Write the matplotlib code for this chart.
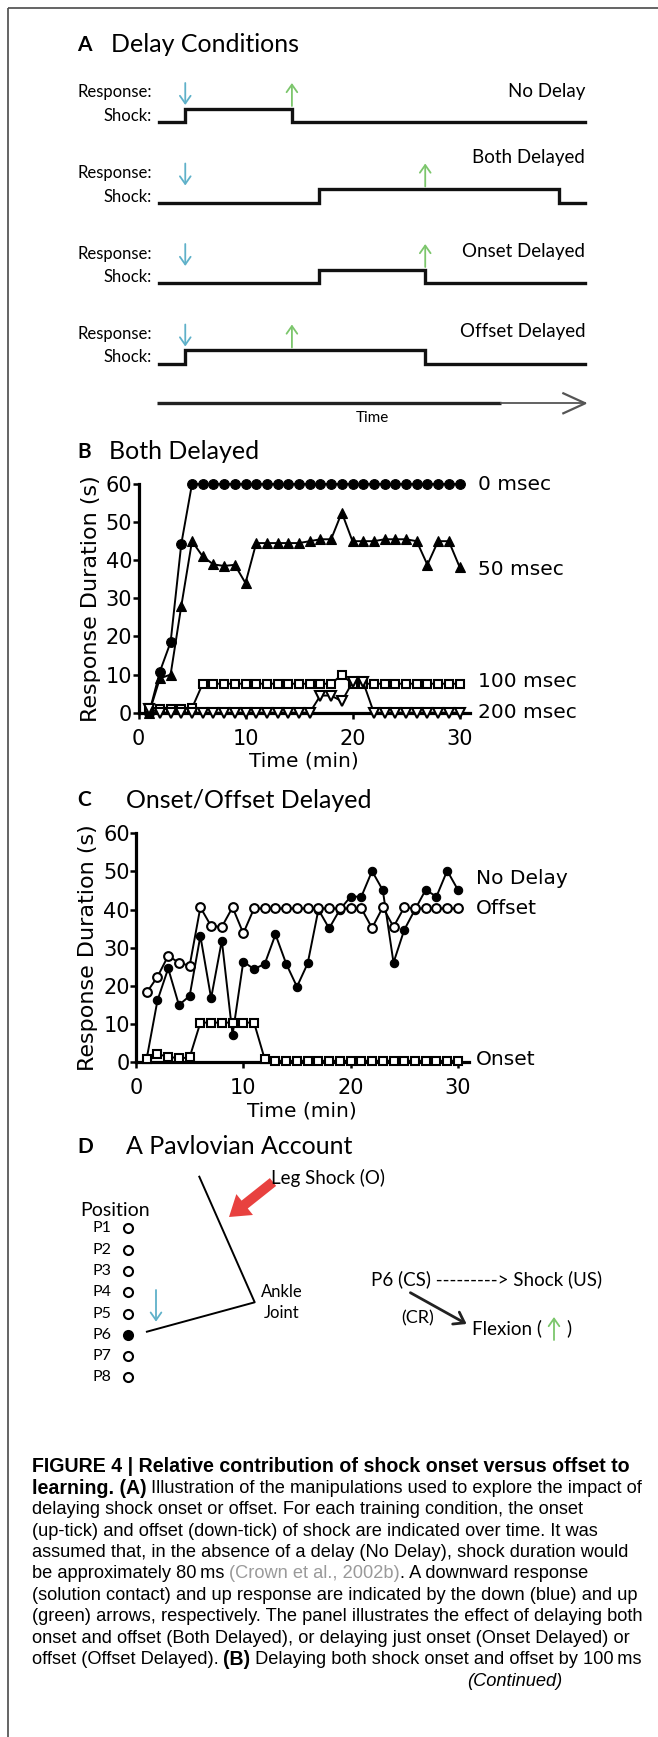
import matplotlib
matplotlib.use("Agg")
import matplotlib.pyplot as plt
from matplotlib.patches import FancyArrowPatch

W, H = 658, 1737
DPI = 100

# ---------------- data ----------------
minutes = list(range(1, 31))

# panel B, both onset and offset delayed
both_0ms = [0, 10.8, 18.5, 44.3] + [60] * 26
both_50ms = [0, 9, 10, 28, 45, 41, 38.9, 38.5, 38.8, 34,
             44.5, 44.5, 44.5, 44.5, 44.5, 45, 45.5, 45.5, 52.5, 45,
             45, 45, 45.5, 45.5, 45.5, 45, 38.8, 45, 45, 38.3]
both_100ms = [1.3, 1, 1, 1, 1.2] + [7.6] * 13 + [9.9] + [7.6] * 11
both_200ms = [1] + [0] * 15 + [4.5, 4.5, 3, 8, 8] + [0] * 9

# panel C, onset or offset delayed
no_delay = [1, 16.2, 24.6, 15.0, 17.4, 33.1, 16.8, 31.9, 7.2, 26.4,
            24.4, 25.8, 33.5, 25.8, 19.8, 25.9, 40, 35.1, 40, 43.4,
            43.4, 50.1, 45.1, 26.1, 34.7, 40, 45.2, 43.4, 50.2, 45.2]
offset_delayed = [18.3, 22.4, 27.9, 26.1, 25.3, 40.6, 35.7, 35.5, 40.6, 33.8] \
    + [40.3] * 11 + [35.2, 40.6, 35.5, 40.6] + [40.3] * 5
onset_delayed = [0.8, 2.1, 1.5, 1.0, 1.3] + [10.4] * 6 + [0.8] + [0.4] * 18

# panel A, schematic timing (arbitrary time units)
conditions = ['No Delay', 'Both Delayed', 'Onset Delayed', 'Offset Delayed']
shock_on = [1, 6, 6, 1]
shock_off = [5, 15, 10, 10]
resp_down = [1, 1, 1, 1]
resp_up = [5, 10, 10, 5]
sweep_end = 16

# panel D
positions = ['P1', 'P2', 'P3', 'P4', 'P5', 'P6', 'P7', 'P8']
contact = 'P6'

caption = [
    [("FIGURE 4 | Relative contribution of shock onset versus offset to", 'b')],
    [("learning. (A)", 'b'), (" Illustration of the manipulations used to explore the impact of", 'r')],
    [("delaying shock onset or offset. For each training condition, the onset", 'r')],
    [("(up-tick) and offset (down-tick) of shock are indicated over time. It was", 'r')],
    [("assumed that, in the absence of a delay (No Delay), shock duration would", 'r')],
    [("be approximately 80\u2009ms ", 'r'), ("(Crown et al., 2002b)", 'g'), (". A downward response", 'r')],
    [("(solution contact) and up response are indicated by the down (blue) and up", 'r')],
    [("(green) arrows, respectively. The panel illustrates the effect of delaying both", 'r')],
    [("onset and offset (Both Delayed), or delaying just onset (Onset Delayed) or", 'r')],
    [("offset (Offset Delayed). ", 'r'), ("(B)", 'b'), (" Delaying both shock onset and offset by 100\u2009ms", 'r')],
]

SANS = ['Lato', 'DejaVu Sans']
CAP = ['Liberation Sans', 'DejaVu Sans']
BLUE = '#5fb1c9'
GREEN = '#7cc66c'
RED = '#e8413f'

fig = plt.figure(figsize=(W / DPI, H / DPI), dpi=DPI)
renderer = fig.canvas.get_renderer()

# overlay in pixel units for the schematic parts and the caption
ov = fig.add_axes([0, 0, 1, 1])
ov.set_xlim(0, W)
ov.set_ylim(H, 0)
ov.axis('off')

ov.plot([8.4, W], [7.5, 7.5], color='#4a4a4a', lw=1.2, solid_capstyle='butt')
ov.plot([8.4, 8.4], [7.5, H], color='#4a4a4a', lw=1.2, solid_capstyle='butt')


def panel_title(letter, title, y, x_title):
    ov.text(77.6, y, letter, family=SANS, fontsize=15, fontweight='bold', va='center', ha='left')
    ov.text(x_title, y, title, family=SANS, fontsize=18, va='center', ha='left')


panel_title('A', 'Delay Conditions', 45, 111)
panel_title('B', 'Both Delayed', 451.7, 109)
panel_title('C', 'Onset/Offset Delayed', 800, 126)
panel_title('D', 'A Pavlovian Account', 1146.7, 126)

# ---------------- panel A ----------------
x0, x1 = 158.6, 585.2
ax_a = fig.add_axes([x0 / W, 1 - 420 / H, (x1 - x0) / W, 380 / H])
ax_a.set_xlim(0, sweep_end)
ax_a.set_ylim(420, 40)
ax_a.axis('off')

label_lift = [31, 45, 31.5, 31.5]
for i, cond in enumerate(conditions):
    low = 122 + 80.5 * i
    high = low - 13.5
    on, off = shock_on[i], shock_off[i]
    ax_a.plot([0, on, on, off, off, sweep_end], [low, low, high, high, low, low],
              color='#111111', lw=2.4, solid_joinstyle='miter', clip_on=False)
    ax_a.add_patch(FancyArrowPatch((resp_down[i], low - 39), (resp_down[i], low - 17),
                                   arrowstyle='->,head_length=0.5,head_width=0.35',
                                   mutation_scale=11, color=BLUE, lw=1.3,
                                   shrinkA=0, shrinkB=0, clip_on=False))
    ax_a.add_patch(FancyArrowPatch((resp_up[i], low - 16), (resp_up[i], low - 39),
                                   arrowstyle='->,head_length=0.5,head_width=0.35',
                                   mutation_scale=11, color=GREEN, lw=1.3,
                                   shrinkA=0, shrinkB=0, clip_on=False))
    ax_a.text(-0.25, low - 29.5, 'Response:', family=SANS, fontsize=12, ha='right', va='center')
    ax_a.text(-0.25, low - 6, 'Shock:', family=SANS, fontsize=12, ha='right', va='center')
    ax_a.text(sweep_end, low - label_lift[i], cond, family=SANS, fontsize=13.5,
              ha='right', va='center')

# time arrow
ax_a.plot([-0.05, 12.85], [403.3, 403.3], color='#222222', lw=2.4, solid_capstyle='butt', clip_on=False)
ax_a.plot([12.85, sweep_end], [403.3, 403.3], color='#555555', lw=1.3, clip_on=False)
ax_a.plot([sweep_end - 0.82, sweep_end, sweep_end - 0.82], [393.3, 403.3, 413.3],
          color='#555555', lw=1.6, clip_on=False)
ax_a.text(sweep_end / 2, 418.3, 'Time', family=SANS, fontsize=11, ha='center', va='center')


# ---------------- panels B and C ----------------
def style_plot(ax):
    ax.patch.set_alpha(0)
    for s in ['top', 'right']:
        ax.spines[s].set_visible(False)
    for s in ['left', 'bottom']:
        ax.spines[s].set_linewidth(2.3)
    ax.set_xlim(0, 31)
    ax.set_ylim(0, 60)
    ax.set_xticks([0, 10, 20, 30])
    ax.set_yticks(range(0, 61, 10))
    ax.tick_params(axis='both', width=1.8, labelsize=15)
    ax.tick_params(axis='x', length=4, pad=7.5)
    ax.tick_params(axis='y', length=4, pad=0.5)
    ax.set_xlabel('Time (min)', fontsize=14.5, labelpad=2)
    ax.set_ylabel('Response Duration (s)', fontsize=16, labelpad=3.5)


ax_b = fig.add_axes([138.5 / W, 1 - 712.7 / H, 31 * 10.7 / W, 228.7 / H])
style_plot(ax_b)
common = dict(color='k', lw=1.4, clip_on=False)
ax_b.plot(minutes, both_0ms, marker='o', ms=7, mew=0.8, mfc='k', zorder=3, **common)
ax_b.plot(minutes, both_50ms, marker='^', ms=7.5, mew=0.8, mfc='k', zorder=4, **common)
ax_b.plot(minutes, both_100ms, marker='s', ms=6, mew=1.5, mfc='white', zorder=5, **common)
ax_b.plot(minutes, both_200ms, marker='v', ms=7, mew=1.5, mfc='white', zorder=6, **common)
for lab, yv in [('0 msec', 60), ('50 msec', 37.5), ('100 msec', 8.1), ('200 msec', 0)]:
    ax_b.text(31.7, yv, lab, fontsize=14.5, ha='left', va='center', clip_on=False)

ax_c = fig.add_axes([136 / W, 1 - 1062.3 / H, 31 * 10.73 / W, 229 / H])
style_plot(ax_c)
ax_c.plot(minutes, no_delay, marker='o', ms=6, mew=0.8, mfc='k', zorder=3, **common)
ax_c.plot(minutes, offset_delayed, marker='o', ms=6.3, mew=1.5, mfc='white', zorder=4, **common)
ax_c.plot(minutes, onset_delayed, marker='s', ms=6, mew=1.5, mfc='white', zorder=5, **common)
for lab, yv in [('No Delay', 48.2), ('Offset', 40.3), ('Onset', 0.8)]:
    ax_c.text(31.7, yv, lab, fontsize=14.5, ha='left', va='center', clip_on=False)

# ---------------- panel D ----------------
ov.plot([199.3, 254.7, 146.9], [1176.7, 1302.3, 1331.7], color='k', lw=1.4)
ov.text(270.7, 1178.3, 'Leg Shock (O)', family=SANS, fontsize=13.5, ha='left', va='center')
ov.add_patch(FancyArrowPatch((273, 1182), (229, 1217),
                             arrowstyle='simple,head_length=1.2,head_width=1.6,tail_width=0.6',
                             mutation_scale=12, color=RED, lw=0, shrinkA=0, shrinkB=0))
ov.text(80.6, 1210, 'Position', family=SANS, fontsize=14, ha='left', va='center')
for i, p in enumerate(positions):
    yy = 1228.3 + 21.3 * i
    ov.text(93, yy, p, family=SANS, fontsize=11.5, ha='left', va='center')
    ov.plot([128], [yy], marker='o', ms=6.5, mew=1.5, mec='k',
            mfc='k' if p == contact else 'white')
ov.add_patch(FancyArrowPatch((156, 1290), (156, 1321.7),
                             arrowstyle='->,head_length=0.5,head_width=0.35',
                             mutation_scale=11, color=BLUE, lw=1.3, shrinkA=0, shrinkB=0))
ov.text(282, 1292.3, 'Ankle', family=SANS, fontsize=12, ha='center', va='center')
ov.text(282, 1312.7, 'Joint', family=SANS, fontsize=12, ha='center', va='center')
ov.text(371.4, 1279.3, 'P6 (CS) ---------> Shock (US)', family=SANS, fontsize=13.5,
        ha='left', va='center')
ov.text(400.8, 1318.3, '(CR)', family=SANS, fontsize=13, ha='left', va='center')
ov.add_patch(FancyArrowPatch((410.4, 1292.7), (466.6, 1324),
                             arrowstyle='->,head_length=0.5,head_width=0.35',
                             mutation_scale=14, color='#222222', lw=2, shrinkA=0, shrinkB=0))
ov.text(472, 1328.3, 'Flexion (', family=SANS, fontsize=13.5, ha='left', va='center')
ov.text(566, 1328.3, ')', family=SANS, fontsize=13.5, ha='left', va='center')
ov.add_patch(FancyArrowPatch((554, 1340), (554, 1317),
                             arrowstyle='->,head_length=0.5,head_width=0.35',
                             mutation_scale=11, color=GREEN, lw=1.3, shrinkA=0, shrinkB=0))


# ---------------- caption ----------------
def text_width(txt, **kw):
    a = ov.text(0, 0, txt + '|', **kw)
    b = ov.text(0, 0, '|', **kw)
    w = a.get_window_extent(renderer).width - b.get_window_extent(renderer).width
    a.remove()
    b.remove()
    return w


# size regular and bold text so that a full line of each spans the figure's text width
w_reg = text_width(caption[7][0][0], family=CAP, fontsize=10)
w_bold = text_width(caption[0][0][0], family=CAP, fontsize=10, fontweight='bold')
reg_size = 10 * 612 / w_reg
bold_size = min(10 * 610 / w_bold, reg_size * 1.08)

for j, parts in enumerate(caption):
    y = 1467 + 21.4 * j
    x = 31.5
    for txt, kind in parts:
        kw = dict(family=CAP,
                  fontsize=bold_size if kind == 'b' else reg_size,
                  fontweight='bold' if kind == 'b' else 'normal',
                  color='#9a9a9a' if kind == 'g' else 'k')
        ov.text(x, y, txt, ha='left', va='center', **kw)
        x += text_width(txt, **kw)
ov.text(562, 1467 + 21.4 * len(caption), '(Continued)', family=CAP, fontsize=reg_size,
        style='italic', ha='right', va='center')

fig.savefig('out.png', dpi=DPI)
